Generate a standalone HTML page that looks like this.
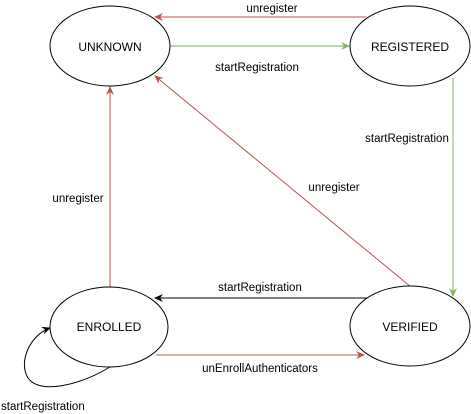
<!DOCTYPE html>
<html><head><style>body{margin:0;background:#fff}svg{display:block}text{font-family:"Liberation Sans",sans-serif}</style></head><body>
<svg width="471" height="414" viewBox="0 0 471 414" xmlns="http://www.w3.org/2000/svg">
<defs>
<marker id="r" markerWidth="10" markerHeight="10" refX="8" refY="5" orient="auto" markerUnits="userSpaceOnUse"><path d="M0,1 L9,5 L0,9 L3,5 Z" fill="#b85450"/></marker>
<marker id="g" markerWidth="10" markerHeight="10" refX="8" refY="5" orient="auto" markerUnits="userSpaceOnUse"><path d="M0,1 L9,5 L0,9 L3,5 Z" fill="#82b366"/></marker>
<marker id="k" markerWidth="10" markerHeight="10" refX="8" refY="5" orient="auto" markerUnits="userSpaceOnUse"><path d="M0,1 L9,5 L0,9 L3,5 Z" fill="#000"/></marker>
</defs>
<g fill="none" stroke-width="1">
<line x1="366" y1="17" x2="155" y2="17" stroke="#b85450" marker-end="url(#r)"/>
<line x1="170" y1="46" x2="349" y2="46" stroke="#82b366" marker-end="url(#g)"/>
<line x1="453" y1="78" x2="453" y2="296" stroke="#82b366" marker-end="url(#g)"/>
<line x1="411" y1="287" x2="155" y2="76" stroke="#b85450" marker-end="url(#r)"/>
<line x1="110" y1="287" x2="110" y2="87" stroke="#b85450" marker-end="url(#r)"/>
<line x1="368" y1="298" x2="155" y2="298" stroke="#000" marker-end="url(#k)"/>
<line x1="156" y1="355" x2="364" y2="355" stroke="#b85450" marker-end="url(#r)"/>
<path d="M110,367 C80,385 40,395 28,378 C18,362 30,335 50,328" stroke="#000" marker-end="url(#k)"/>
<ellipse cx="110" cy="46" rx="60" ry="40" stroke="#000" fill="#fff"/>
<ellipse cx="410" cy="46" rx="60" ry="40" stroke="#000" fill="#fff"/>
<ellipse cx="109" cy="327" rx="59" ry="40" stroke="#000" fill="#fff"/>
<ellipse cx="410" cy="326" rx="60" ry="40" stroke="#000" fill="#fff"/>
</g>
<g font-size="12" text-anchor="middle" fill="#000">
<text x="110" y="51">UNKNOWN</text>
<text x="410" y="51">REGISTERED</text>
<text x="109" y="331">ENROLLED</text>
<text x="410" y="331">VERIFIED</text>
</g>
<g font-size="11.5" text-anchor="middle" fill="#000">
<text x="272" y="12">unregister</text>
<text x="257" y="71">startRegistration</text>
<text x="407" y="142">startRegistration</text>
<text x="334" y="191">unregister</text>
<text x="78" y="202">unregister</text>
<text x="260" y="291">startRegistration</text>
<text x="260" y="372">unEnrollAuthenticators</text>
<text x="1" y="410" text-anchor="start">startRegistration</text>
</g>
</svg>
</body></html>
